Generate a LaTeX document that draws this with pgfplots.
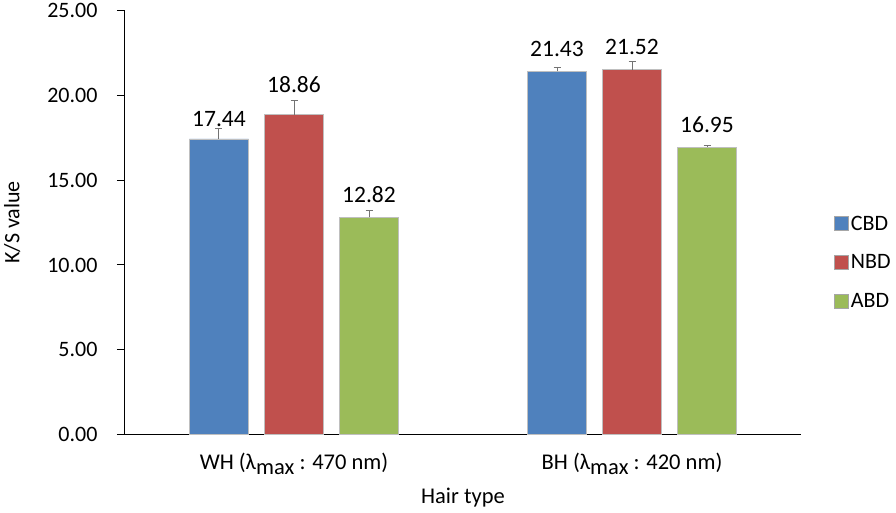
\documentclass[border=0pt]{standalone}
\usepackage{pgfplots}
\pgfplotsset{compat=1.18}
\usepackage{pgfplotstable}
\usepackage{fontspec}
\setmainfont{Carlito}
\definecolor{cbd}{HTML}{4F81BD}
\definecolor{nbd}{HTML}{C0504D}
\definecolor{abd}{HTML}{9BBB59}
\newcommand{\lmax}{λ\raisebox{-5pt}{max}}
\pgfplotstableread{
x y err lab off
0 17.44 0.60 17.44 9
1 21.43 0.22 21.43 11
}\cbdtab
\pgfplotstableread{
x y err lab off
0 18.86 0.81 18.86 18
1 21.52 0.49 21.52 11
}\nbdtab
\pgfplotstableread{
x y err lab off
0 12.82 0.41 12.82 11
1 16.95 0.08 16.95 11
}\abdtab
\begin{document}
\begin{tikzpicture}
\begin{axis}[
  scale only axis,
  width=676pt, height=424pt,
  xmin=-0.5, xmax=1.5, ymin=0, ymax=25,
  ybar, bar width=0.1746,
  axis x line=bottom, axis y line=left,
  axis line style={-, black, line width=1pt},
  xtick={0,1},
  xticklabels={WH (\lmax\ : 470 nm), BH (\lmax\ : 420 nm)},
  x tick style={draw=none},
  ytick={0,5,10,15,20,25},
  y tick style={black, line width=1pt},
  major tick length=8pt,
  tick align=outside,
  yticklabel style={/pgf/number format/fixed, /pgf/number format/fixed zerofill, /pgf/number format/precision=2, font=\fontsize{22}{26}\selectfont, xshift=-16pt},
  /pgf/number format/assume math mode=true,
  xticklabel style={font=\fontsize{22.5}{26}\selectfont, yshift=-7pt},
  xlabel={Hair type}, ylabel={K/S value},
  xlabel style={font=\fontsize{22.5}{26}\selectfont, at={(axis description cs:0.5,-0.1486)}, anchor=center},
  ylabel style={font=\fontsize{22}{26}\selectfont, at={(axis description cs:-0.167,0.5)}, anchor=center, rotate=0},
  error bars/y dir=plus, error bars/y explicit,
  error bars/error bar style={black!55, line width=1pt},
  error bars/error mark options={rotate=90, black!55, mark size=3.5pt, line width=1pt},
  nodes near coords,
  point meta=explicit symbolic,
  visualization depends on={\thisrow{off} \as \myoff},
  nodes near coords style={font=\fontsize{23.5}{27}\selectfont, anchor=south, yshift=\myoff pt, text=black},
  legend style={at={(axis description cs:1.049,0.406)}, anchor=west, draw=none, fill=none,
    font=\fontsize{22}{26}\selectfont, row sep=19pt, inner sep=0pt,
    nodes={inner sep=2pt}},
  legend cell align=left,
  legend image code/.code={\draw[#1, draw=gray!70, line width=0.6pt] (0pt,-7pt) rectangle (14pt,7pt);},
]
\addplot[fill=cbd, draw=gray!50, line width=0.5pt, bar shift=-0.2219] table[x=x, y=y, y error=err, meta=lab] {\cbdtab};
\addplot[fill=nbd, draw=gray!50, line width=0.5pt, bar shift=0] table[x=x, y=y, y error=err, meta=lab] {\nbdtab};
\addplot[fill=abd, draw=gray!50, line width=0.5pt, bar shift=0.2219] table[x=x, y=y, y error=err, meta=lab] {\abdtab};
\legend{CBD, NBD, ABD}
\end{axis}
\path[use as bounding box] (-125pt,-78pt) rectangle (771pt,434pt);
\end{tikzpicture}
\end{document}
